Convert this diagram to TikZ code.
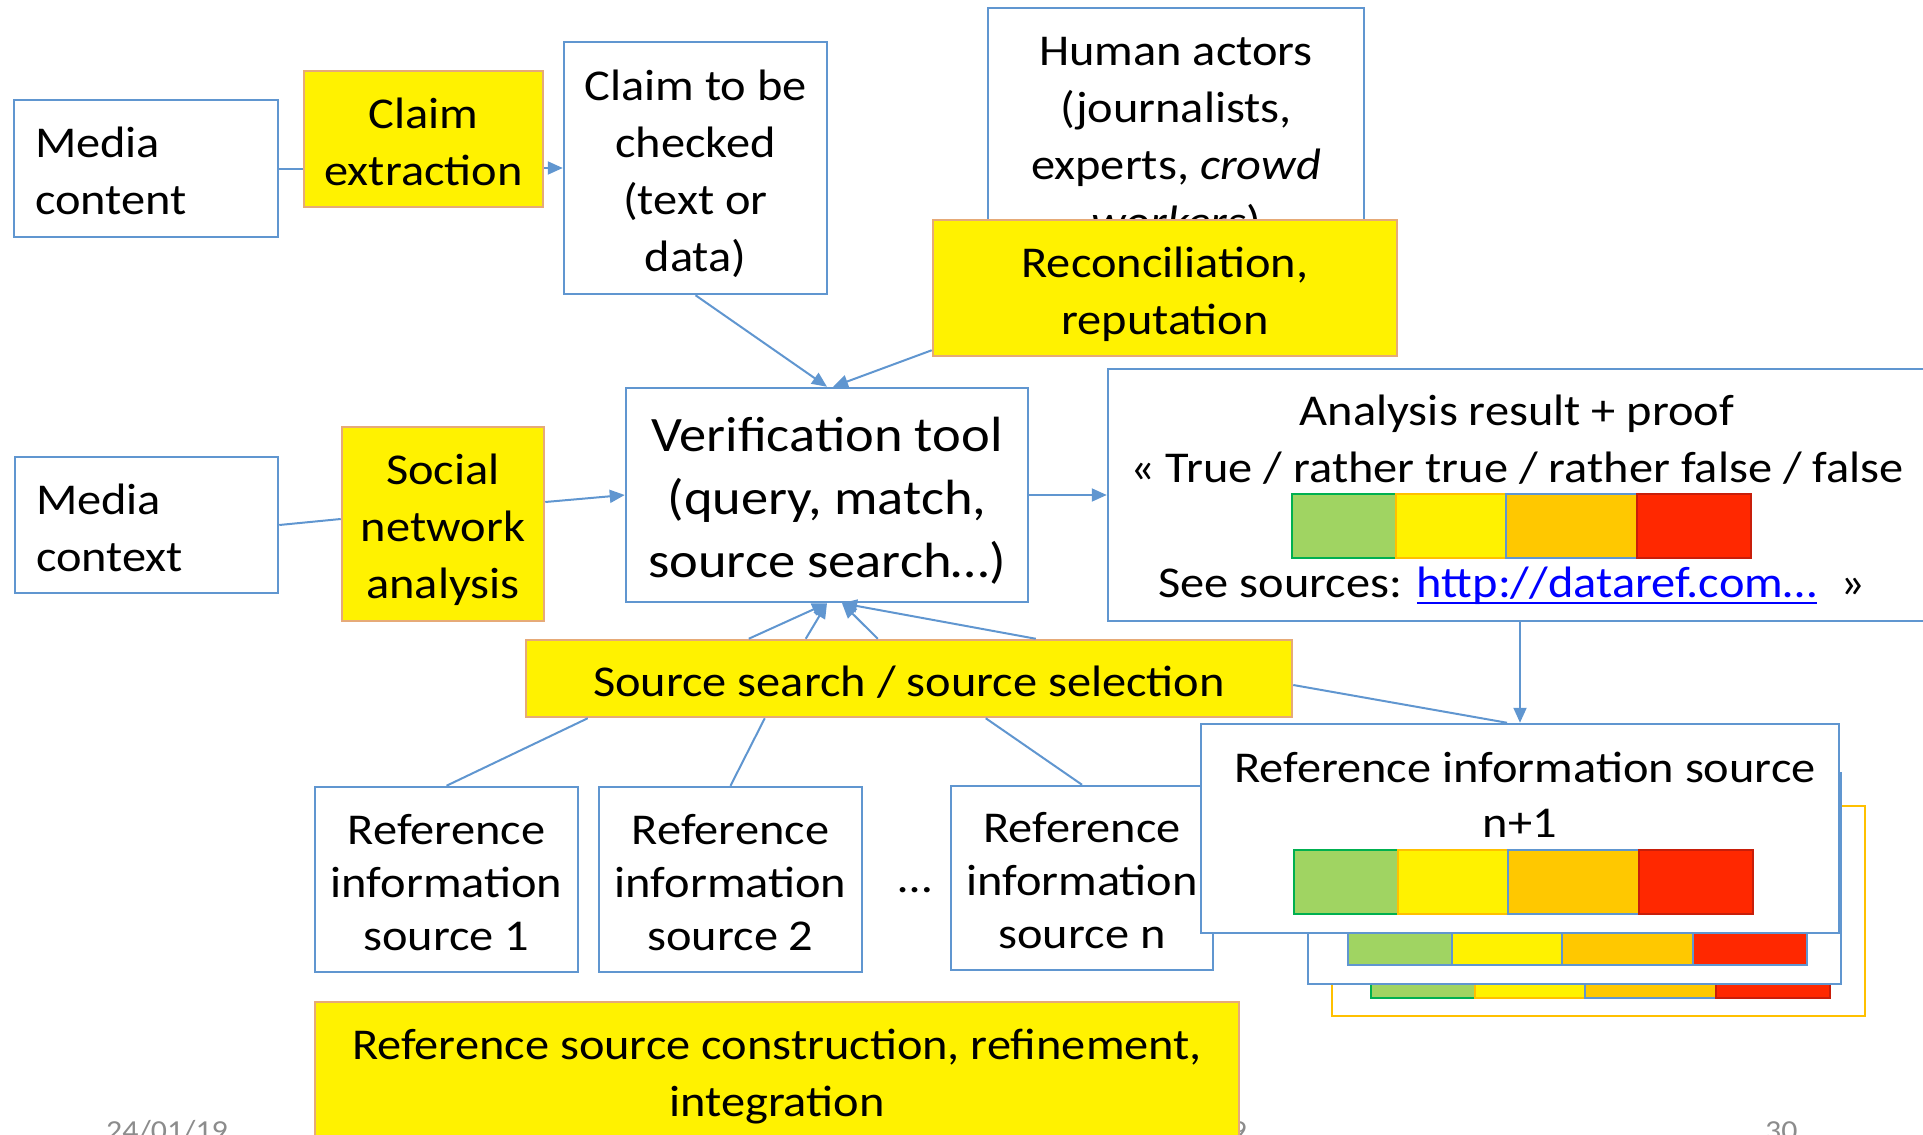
\documentclass[tikz,border=0pt]{standalone}
\usepackage{fontspec}
\setmainfont[FakeStretch=1.1]{Carlito}
\usepackage{tikz}
\usetikzlibrary{positioning, arrows.meta, calc}

\definecolor{lineBlue}{RGB}{96,150,208}
\definecolor{edgeTan}{RGB}{230,170,120}
\definecolor{barGreen}{RGB}{160,212,98}
\definecolor{edgeGreen}{RGB}{0,176,80}
\definecolor{barOrange}{RGB}{255,200,0}
\definecolor{edgeYellow}{RGB}{255,192,0}
\definecolor{barRed}{RGB}{255,40,0}
\definecolor{edgeRed}{RGB}{200,30,10}
\definecolor{linkBlue}{RGB}{0,0,255}
\definecolor{footGray}{RGB}{140,140,140}

% four coloured cells: left x, top y, extra options
\newcommand{\scorebar}[3]{%
    \foreach \off/\w/\fc/\dc in {0/104/barGreen/edgeGreen, 104/110/yellow/edgeYellow, 214/131/barOrange/lineBlue, 345/114/barRed/edgeRed}
    {
        \draw[line width=2.5pt, fill=\fc, draw=\dc, #3] (#1+\off, #2) rectangle ++(\w, 64);
    }
}
\newcommand{\ulink}[1]{\setbox0\hbox{#1}\rlap{\rule[-7pt]{\wd0}{2.5pt}}\box0}
% struts for first and last line, so text sits in its box as on the slide
\newcommand{\topstrut}{\rule{0pt}{1.05em}}
\newcommand{\botstrut}{\rule[-0.25em]{0pt}{0.25em}}

\begin{document}
\begin{tikzpicture}[x=1pt, y=-1pt,
        box/.style={draw=lineBlue, line width=2.5pt, fill=white, inner sep=0pt, align=center},
        ybox/.style={draw=edgeTan, line width=2.5pt, fill=yellow, inner sep=0pt, align=center},
        dims/.style 2 args={minimum width=#1, minimum height=#2},
        txt/.style={font=\fontsize{44}{57}\selectfont},
        reftxt/.style={font=\fontsize{44}{53}\selectfont},
        foot/.style={font=\fontsize{29}{34}\selectfont, text=footGray, inner sep=0pt},
        wire/.style={draw=lineBlue, line width=2pt},
        wirearrow/.style={wire, -{Triangle[length=15pt, width=13pt]}}]

    \useasboundingbox (0,0) rectangle (1923,1135);
    \clip (0,0) rectangle (1923,1135);

    % upper row
    \node[box, dims={264}{137}, txt, align=left, text width=222pt] (mc) at (146, 168.5) {\topstrut Media\\content\botstrut};
    \node[ybox, dims={239}{136}, txt] (ce) at (423.5, 139) {\topstrut Claim\\extraction\botstrut};
    \node[box, dims={263}{252}, txt] (cl) at (695.5, 168) {\topstrut Claim to be\\checked\\(text or\\data)\botstrut};
    \node[box, dims={376}{250}, txt] (ha) at (1176, 133) {\topstrut Human actors\\(journalists,\\experts, \textit{crowd}\\\textit{workers})\botstrut};
    \node[ybox, dims={464}{136}, txt] (rc) at (1165, 288) {\topstrut Reconciliation,\\reputation\botstrut};

    % middle row
    \node[box, dims={263}{136}, txt, align=left, text width=221pt] (mx) at (146.5, 525) {\topstrut Media\\context\botstrut};
    \node[ybox, dims={202}{194}, txt] (sn) at (443, 524) {\topstrut Social\\network\\analysis\botstrut};
    \node[box, dims={402}{214}, font=\fontsize{49.5}{63}\selectfont] (vt) at (827, 495) {\topstrut Verification tool\\(query, match,\\source search…)\botstrut};
    \node[box, dims={822}{252}] (an) at (1519, 495) {};
    \node[txt, anchor=base] (an1) at (1517, 425) {Analysis result + proof};
    \node[txt, anchor=base] (an2) at (1517, 482) {« True / rather true / rather false / false};
    \scorebar{1292}{494}{}
    \node[txt, anchor=base] (an3) at (1512, 597) {See sources: {\color{linkBlue}\ulink{http://dataref.com…}}\hspace{24pt}»};

    \node[ybox, dims={766}{77}, txt] (ss) at (909, 678.5) {\topstrut Source search / source selection\botstrut};

    % reference sources
    \node[box, dims={263}{185}, reftxt] (r1) at (446.5, 879.5) {\topstrut Reference\\information\\source 1\botstrut};
    \node[box, dims={263}{185}, reftxt] (r2) at (730.5, 879.5) {\topstrut Reference\\information\\source 2\botstrut};
    \node[txt] (dots) at (915, 890) {…};
    \node[box, dims={262}{184}, reftxt] (rn) at (1082, 878) {\topstrut Reference\\information\\source n\botstrut};

    % stacked sources behind n+1
    \node[box, draw=edgeYellow, line width=2pt, dims={533}{210}] (rb) at (1598.5, 911) {};
    \scorebar{1371}{934}{}
    \node[box, dims={533}{211}] (rm) at (1574.5, 878.5) {};
    \scorebar{1348}{901}{draw=lineBlue}
    \node[box, dims={638}{209}] (rn1) at (1520, 828.5) {};
    \node[txt, anchor=base] (rn1a) at (1525, 782) {Reference information source};
    \node[txt, anchor=base] (rn1b) at (1520, 837) {n+1};
    \scorebar{1294}{850}{}

    % footer
    \node[foot, anchor=base west] (date) at (106, 1140) {24/01/19};
    \node[foot, anchor=base east] (mid) at (1247, 1140) {9};
    \node[foot, anchor=base west] (page) at (1765, 1140) {30};

    \node[ybox, dims={924}{136}, txt] (rs) at (777, 1070) {\topstrut Reference source construction, refinement,\\integration\botstrut};

    % connectors
    \draw[wire] (mc.east) -- (mc.east -| ce.west);
    \draw[wirearrow] (ce.east |- cl.west) -- (cl.west);
    \draw[wirearrow] (cl.south) -- (vt.north);
    \draw[wirearrow] ([yshift=7pt]rc.south west) -- ([xshift=6pt]vt.north);
    \draw[wire] (mx.east) -- ([yshift=5pt]sn.west);
    \draw[wirearrow] ([yshift=22pt]sn.east) -- (vt.west);
    \draw[wirearrow] (vt.east) -- (an.west);

    \foreach \dx/\tx in {224/0, 281/0, 353/15, 511/15}
    {
        \draw[wirearrow] ([xshift=\dx]ss.north west) -- ([xshift=\tx]vt.south);
    }

    \draw[wire] ([xshift=63pt]ss.south west) -- (r1.north);
    \draw[wire] ([xshift=240pt]ss.south west) -- (r2.north);
    \draw[wire] ([xshift=461pt]ss.south west) -- (rn.north);
    \draw[wire] ([yshift=-6.5pt]ss.east) -- ([xshift=-13pt]rn1.north);
    \draw[wirearrow] (an.south -| rn1.north) -- (rn1.north);
\end{tikzpicture}
\end{document}
